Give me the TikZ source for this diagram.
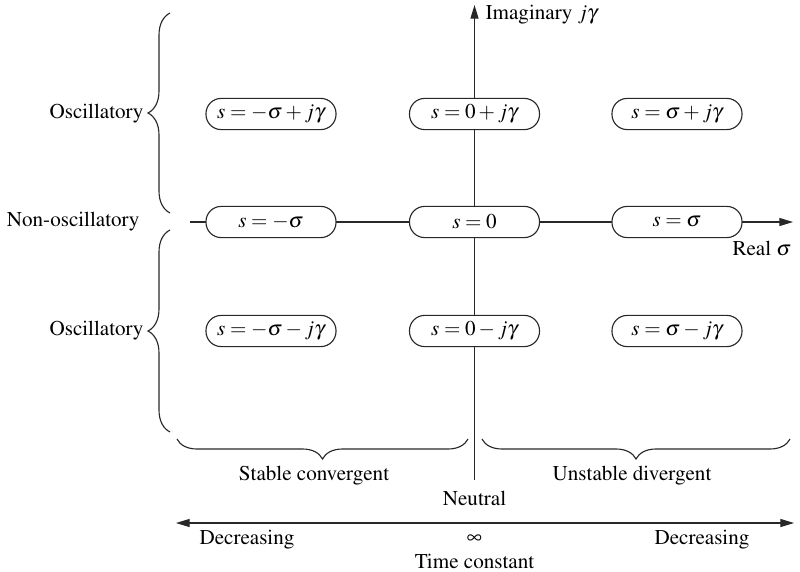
\documentclass[tikz,border=0pt]{standalone}
\usepackage[T1]{fontenc}
\usepackage{mathptmx}
\definecolor{PlaneGray}{RGB}{40,40,40}
\usetikzlibrary{
    arrows.meta,
    positioning,
    decorations.pathreplacing,
}

\begin{document}
\begin{tikzpicture}[
    x=0.025cm, y=-0.025cm,
    root/.style={rectangle, rounded corners=0.38cm, draw=PlaneGray, fill=white, line width=0.8pt, minimum width=3.25cm, minimum height=0.78cm, inner xsep=3pt, font=\fontsize{15}{18}\selectfont},
    lbl/.style={inner sep=1pt, font=\fontsize{15}{18}\selectfont},
    axisline/.style={line width=0.8pt, draw=PlaneGray},
    curly/.style={line width=0.8pt, draw=PlaneGray, decorate, decoration={brace, amplitude=0.55cm}},
    curlyh/.style={line width=0.8pt, draw=PlaneGray, decorate, decoration={brace, amplitude=0.5cm}}
]
    \useasboundingbox (0,0) rectangle (800,571);
    \coordinate (imagfoot) at (474.5,480);
    \coordinate (imagtip) at (474.5,5);
    \coordinate (realstart) at (190,222);
    \coordinate (realtip) at (793,222);
    \coordinate (tcleft) at (176,523);
    \coordinate (tcright) at (794,523);
    \draw[axisline, -{Triangle[length=0.34cm, width=0.2cm]}] (imagfoot) -- (imagtip);
    \draw[axisline, -{Triangle[length=0.34cm, width=0.2cm]}] (realstart) -- (realtip);
    \node[lbl, anchor=west] (imaglbl) at (484,15) {Imaginary $j\gamma$};
    \node[lbl] (reallbl) at (762,249) {Real $\sigma$};
    \node[root] (npj) at (271,114) {$s = -\sigma + j\gamma$};
    \node[root] (zpj) at (474.5,114) {$s = 0 + j\gamma$};
    \node[root] (ppj) at (677,114) {$s = \sigma + j\gamma$};
    \node[root] (nre) at (271,222) {$s = -\sigma$};
    \node[root] (zre) at (474.5,222) {$s = 0$};
    \node[root] (pre) at (677,222) {$s = \sigma$};
    \node[root] (nmj) at (271,331) {$s = -\sigma - j\gamma$};
    \node[root] (zmj) at (474.5,331) {$s = 0 - j\gamma$};
    \node[root] (pmj) at (677,331) {$s = \sigma - j\gamma$};
    \coordinate (oscAtop) at (170,13);
    \coordinate (oscAbot) at (170,213);
    \coordinate (oscBtop) at (170,230);
    \coordinate (oscBbot) at (170,432);
    \coordinate (stabL) at (177,439);
    \coordinate (stabR) at (468,439);
    \coordinate (unstL) at (482,439);
    \coordinate (unstR) at (790,439);
    \draw[curly] (oscAbot) -- (oscAtop);
    \draw[curly] (oscBbot) -- (oscBtop);
    \draw[curlyh] (stabR) -- (stabL);
    \draw[curlyh] (unstR) -- (unstL);
    \node[lbl, anchor=east] (oscup) at (145,114) {Oscillatory};
    \node[lbl, anchor=east] (nonosc) at (141,222) {Non-oscillatory};
    \node[lbl, anchor=east] (oscdown) at (145,331) {Oscillatory};
    \node[lbl] (stable) at (314,476) {Stable convergent};
    \node[lbl] (unstable) at (632,476) {Unstable divergent};
    \node[lbl] (neutral) at (474.5,498) {Neutral};
    \draw[axisline, {Triangle[length=0.34cm, width=0.2cm]}-{Triangle[length=0.34cm, width=0.2cm]}] (tcleft) -- (tcright);
    \node[lbl] (decl) at (247,540) {Decreasing};
    \node[lbl] (infty) at (474.5,539) {$\infty$};
    \node[lbl] (decr) at (702,540) {Decreasing};
    \node[lbl] (tconst) at (474.5,561) {Time constant};
\end{tikzpicture}
\end{document}
